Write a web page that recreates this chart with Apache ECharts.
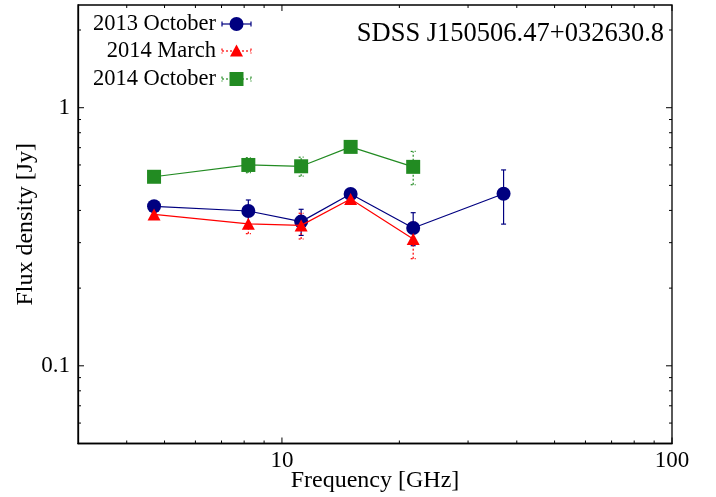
<!DOCTYPE html>
<html>
<head>
<meta charset="utf-8">
<script src="https://cdn.jsdelivr.net/npm/echarts@6/dist/echarts.min.js"></script>
<style>html,body{margin:0;padding:0;background:#fff}#c{width:716px;height:497px}</style>
</head>
<body>
<div id="c"></div>
<script>
// ---- data ----
const seriesNames = ['2013 October', '2014 March', '2014 October'];
const freq2013Oct = [4.7, 8.2, 11.2, 15, 21.7, 37];
const flux2013Oct = [0.415, 0.398, 0.362, 0.463, 0.342, 0.464];
const err2013Oct  = [0.01, 0.041, 0.042, 0.01, 0.05, 0.11];
const freq2014Mar = [4.7, 8.2, 11.2, 15, 21.7];
const flux2014Mar = [0.386, 0.355, 0.35, 0.443, 0.31];
const err2014Mar  = [0.015, 0.03, 0.04, 0.01, 0.05];
const freq2014Oct = [4.7, 8.2, 11.2, 15, 21.7];
const flux2014Oct = [0.54, 0.60, 0.593, 0.705, 0.59];
const err2014Oct  = [0.01, 0.04, 0.05, 0.01, 0.087];
const titleText = 'SDSS J150506.47+032630.8';
const xName = 'Frequency [GHz]';
const yName = 'Flux density [Jy]';
const xMin = 3, xMax = 100, yMin = 0.05, yMax = 2.5;
const xTicksMajor = [10, 100];
const xTicksMinor = [4, 5, 6, 7, 8, 9, 20, 30, 40, 50, 60, 70, 80, 90];
const yTicksMajor = [0.1, 1];
const yTicksMinor = [0.06, 0.07, 0.08, 0.09, 0.2, 0.3, 0.4, 0.5, 0.6, 0.7, 0.8, 0.9, 2];

const FONT = "'Liberation Serif','Times New Roman',serif";
const colors = ['#000080', '#ff0000', '#228b22'];
const errDash = ['solid', [2, 2], [2, 2]];

function pairs(f, v) { return f.map((x, i) => [x, v[i]]); }
function errData(f, v, e) { return f.map((x, i) => [x, v[i], v[i] - e[i], v[i] + e[i]]); }

function errSeries(f, v, e, color, dash) {
  return {
    type: 'custom', coordinateSystem: 'cartesian2d', silent: true, clip: false,
    data: errData(f, v, e),
    renderItem: function (params, api) {
      const x = api.value(0);
      const lo = api.coord([x, api.value(2)]);
      const hi = api.coord([x, api.value(3)]);
      const st = { stroke: color, lineWidth: 1.2, lineDash: dash === 'solid' ? null : dash };
      const c = 2.5;
      return { type: 'group', children: [
        { type: 'line', shape: { x1: lo[0], y1: lo[1], x2: hi[0], y2: hi[1] }, style: st },
        { type: 'line', shape: { x1: lo[0] - c, y1: lo[1], x2: lo[0] + c, y2: lo[1] }, style: st },
        { type: 'line', shape: { x1: hi[0] - c, y1: hi[1], x2: hi[0] + c, y2: hi[1] }, style: st }
      ]};
    },
    z: 3
  };
}
function lineSeries(name, f, v, color, symbol, size, z) {
  return {
    name: name, type: 'line', data: pairs(f, v), symbol: symbol, symbolSize: size,
    lineStyle: { color: color, width: 1.2 }, itemStyle: { color: color },
    showSymbol: true, animation: false, z: z
  };
}
function tickSeries(vals, isX) {
  return {
    type: 'custom', coordinateSystem: 'cartesian2d', silent: true, clip: false,
    data: vals.map(v => isX ? [v, 1] : [10, v]),
    renderItem: function (params, api) {
      const v = isX ? api.value(0) : api.value(1);
      const major = isX ? xTicksMajor.indexOf(v) >= 0 : yTicksMajor.indexOf(v) >= 0;
      const L = major ? 6 : 3;
      const st = { stroke: '#000', lineWidth: 1 };
      if (isX) {
        const b = api.coord([v, yMin]), t = api.coord([v, yMax]);
        return { type: 'group', children: [
          { type: 'line', shape: { x1: b[0], y1: b[1], x2: b[0], y2: b[1] - L }, style: st },
          { type: 'line', shape: { x1: t[0], y1: t[1], x2: t[0], y2: t[1] + L }, style: st }
        ]};
      } else {
        const l = api.coord([xMin, v]), r = api.coord([xMax, v]);
        return { type: 'group', children: [
          { type: 'line', shape: { x1: l[0], y1: l[1], x2: l[0] + L, y2: l[1] }, style: st },
          { type: 'line', shape: { x1: r[0], y1: r[1], x2: r[0] - L, y2: r[1] }, style: st }
        ]};
      }
    },
    z: 1
  };
}
function decadeLabel(v) {
  const l = Math.log10(v);
  if (Math.abs(l - Math.round(l)) < 1e-6) {
    const r = Math.pow(10, Math.round(l));
    return r >= 1 ? String(Math.round(r)) : String(+r.toPrecision(1));
  }
  return '';
}

// legend drawn as graphics (text right-aligned, sample line with error caps and symbol)
const legendY = [24, 51, 79];
const legendTextRight = 216, sx1 = 222, sx2 = 251, sxm = 236.5;
const legendGraphics = [];
seriesNames.forEach((n, i) => {
  const y = legendY[i], col = colors[i];
  const st = { stroke: col, lineWidth: 1.2, lineDash: errDash[i] === 'solid' ? null : errDash[i] };
  legendGraphics.push({ type: 'text', x: legendTextRight, y: y, style: { text: n, font: '22.5px ' + FONT, fill: '#000', align: 'right', verticalAlign: 'middle' } });
  legendGraphics.push({ type: 'line', shape: { x1: sx1, y1: y, x2: sx2, y2: y }, style: st });
  legendGraphics.push({ type: 'line', shape: { x1: sx1, y1: y - 2.5, x2: sx1, y2: y + 2.5 }, style: st });
  legendGraphics.push({ type: 'line', shape: { x1: sx2, y1: y - 2.5, x2: sx2, y2: y + 2.5 }, style: st });
});
legendGraphics.push({ type: 'circle', shape: { cx: sxm, cy: legendY[0], r: 7 }, style: { fill: colors[0] } });
legendGraphics.push({ type: 'polygon', shape: { points: [[sxm, legendY[1] - 6.5], [sxm - 6.5, legendY[1] + 5.5], [sxm + 6.5, legendY[1] + 5.5]] }, style: { fill: colors[1] } });
legendGraphics.push({ type: 'rect', shape: { x: sxm - 7, y: legendY[2] - 7, width: 14, height: 14 }, style: { fill: colors[2] } });
legendGraphics.push({ type: 'text', x: 664, y: 34, style: { text: titleText, font: '26.5px ' + FONT, fill: '#000', align: 'right', verticalAlign: 'middle' } });

const chart = echarts.init(document.getElementById('c'), null, { renderer: 'canvas' });
chart.setOption({
  animation: false,
  backgroundColor: '#fff',
  grid: { left: 78, right: 44, top: 5, bottom: 53.5, show: true, borderColor: '#000', borderWidth: 1.3, containLabel: false, outerBoundsMode: 'none' },
  xAxis: {
    type: 'log', logBase: 10, min: xMin, max: xMax,
    name: xName, nameLocation: 'middle', nameGap: 25.5, nameMoveOverlap: false,
    nameTextStyle: { fontFamily: FONT, fontSize: 24, color: '#000' },
    axisLine: { show: true, lineStyle: { color: '#000', width: 1.3 } },
    axisTick: { show: false }, splitLine: { show: false }, minorTick: { show: false },
    axisLabel: { formatter: decadeLabel, fontFamily: FONT, fontSize: 23, color: '#000', margin: 6 }
  },
  yAxis: {
    type: 'log', logBase: 10, min: yMin, max: yMax,
    name: yName, nameLocation: 'middle', nameGap: 40, nameRotate: 90, nameMoveOverlap: false,
    nameTextStyle: { fontFamily: FONT, fontSize: 24, color: '#000' },
    axisLine: { show: true, lineStyle: { color: '#000', width: 1.3 } },
    axisTick: { show: false }, splitLine: { show: false }, minorTick: { show: false },
    axisLabel: { formatter: decadeLabel, fontFamily: FONT, fontSize: 23, color: '#000', margin: 8 }
  },
  graphic: legendGraphics,
  series: [
    tickSeries(xTicksMajor.concat(xTicksMinor), true),
    tickSeries(yTicksMajor.concat(yTicksMinor), false),
    errSeries(freq2014Oct, flux2014Oct, err2014Oct, colors[2], errDash[2]),
    lineSeries(seriesNames[2], freq2014Oct, flux2014Oct, colors[2], 'rect', 14, 4),
    errSeries(freq2013Oct, flux2013Oct, err2013Oct, colors[0], errDash[0]),
    lineSeries(seriesNames[0], freq2013Oct, flux2013Oct, colors[0], 'circle', 14, 5),
    errSeries(freq2014Mar, flux2014Mar, err2014Mar, colors[1], errDash[1]),
    lineSeries(seriesNames[1], freq2014Mar, flux2014Mar, colors[1], 'triangle', [13, 12], 6)
  ]
});
</script>
</body>
</html>
